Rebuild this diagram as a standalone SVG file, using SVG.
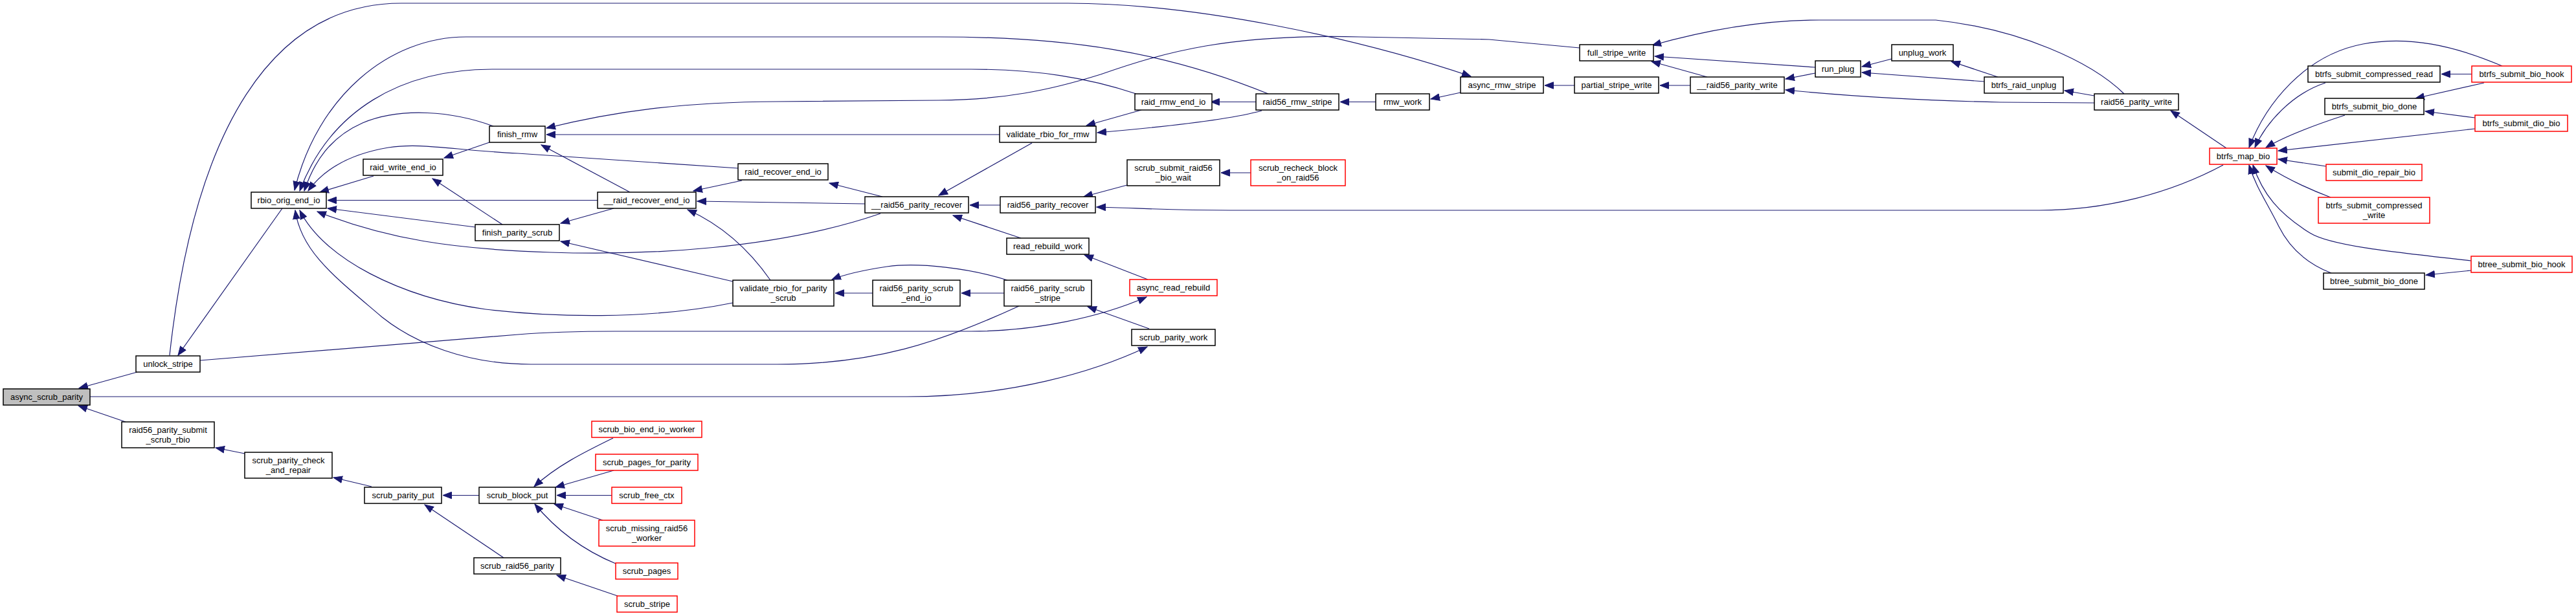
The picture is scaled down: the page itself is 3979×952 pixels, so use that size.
<svg xmlns="http://www.w3.org/2000/svg" width="3979" height="952" viewBox="0 0 3979 952">
<style>
.n rect{fill:#fff;stroke:#000;stroke-width:1.5}
.r rect{stroke:#f00}
.g rect{fill:#bfbfbf}
text{font-family:"Liberation Sans",Arial,sans-serif;font-size:13px;text-anchor:middle;fill:#000}
#edges path{fill:none;stroke:#191970;stroke-width:1.2;marker-end:url(#a)}
</style>
<defs>
<marker id="a" markerWidth="15" markerHeight="12" refX="14" refY="6" orient="auto" markerUnits="userSpaceOnUse">
<path d="M0.5,0.8 L14,6 L0.5,11.2 z" fill="#191970" stroke="#191970" stroke-width="1"/>
</marker>
</defs>
<rect width="3979" height="952" fill="#fff"/>
<g id="edges">
<path d="M212,575 L122,600"/>
<path d="M194,652 L121,627"/>
<path d="M139,613 L1400,613 C1560,613 1690,575 1772,536"/>
<path d="M436,322 L275,549"/>
<path d="M262,549 C300,200 420,5 620,5 L1650,5 C1850,5 2100,60 2272,118"/>
<path d="M1959,145 C1800,80 1650,57 1450,57 L720,57 C600,57 490,150 455,294"/>
<path d="M1755,145 C1680,120 1600,107 1500,107 L760,107 C620,107 510,170 463,295"/>
<path d="M762,195 C700,172 620,165 560,190 C510,212 485,250 470,295"/>
<path d="M1140,260 L800,237 C700,232 650,220 600,228 C540,238 500,262 476,295"/>
<path d="M577,272 L494,297"/>
<path d="M923,309.5 L506,309.5"/>
<path d="M734,351 L506,322"/>
<path d="M1360,330 C1200,385 1000,395 850,390 C700,385 600,370 490,327"/>
<path d="M1132,468 C1000,495 850,490 750,478 C620,460 500,400 463,325"/>
<path d="M1574,473 C1450,530 1350,563 1200,563 L820,563 C720,563 640,530 590,490 C520,430 465,390 456,325"/>
<path d="M756,220 L686,244"/>
<path d="M776,347 L668,276"/>
<path d="M2440,74 L2300,61 L2100,57 C1900,52 1800,80 1700,115 C1620,140 1550,154 1450,155 L1200,157 C1050,158 950,172 844,198"/>
<path d="M1544,208 L844,208"/>
<path d="M973,297 L836,224"/>
<path d="M948,322 L866,345"/>
<path d="M1132,435 L866,373"/>
<path d="M1146,279 L1071,295"/>
<path d="M1336,315 L1077,311"/>
<path d="M1190,433 C1160,390 1120,350 1062,324"/>
<path d="M1363,304 L1281,283"/>
<path d="M1594,221 L1450,302"/>
<path d="M1545,317 L1498,317"/>
<path d="M1577,368 L1472,333"/>
<path d="M1348,453 L1290,453"/>
<path d="M1556,433 C1500,415 1420,405 1370,412 C1330,418 1305,424 1285,432"/>
<path d="M1551,453 L1485,453"/>
<path d="M1763,170 L1678,194"/>
<path d="M1949,171 C1900,185 1800,196 1695,205"/>
<path d="M1940,157.5 L1870,157.5"/>
<path d="M2125,157.5 L2070,157.5"/>
<path d="M2256,143 L2210,153"/>
<path d="M2432,132 L2386,132"/>
<path d="M2611,132 L2564,132"/>
<path d="M2637,119 L2551,95"/>
<path d="M2804,104 L2556,87"/>
<path d="M3281,145 C3230,95 3120,45 2990,31 L2810,31 C2720,31 2630,48 2552,70"/>
<path d="M2804,113 L2758,122"/>
<path d="M3235,159 L3090,158 C2950,155 2850,148 2758,139"/>
<path d="M2922,91 L2876,103"/>
<path d="M3065,126 L2876,112"/>
<path d="M3086,119 L3014,95"/>
<path d="M3235,148 L3189,140"/>
<path d="M3439,229 L3353,171"/>
<path d="M3434,255 C3350,300 3250,325 3150,325 L1900,325 C1800,325 1750,321 1694,320"/>
<path d="M3592,128 C3540,145 3500,190 3483,228"/>
<path d="M3865,102 C3790,70 3720,55 3650,68 C3560,85 3500,160 3474,228"/>
<path d="M3622,178 C3570,195 3530,210 3500,228"/>
<path d="M3823,199 L3519,233"/>
<path d="M3593,257 L3519,246"/>
<path d="M3600,305 C3560,290 3530,275 3500,256"/>
<path d="M3817,403 C3700,390 3600,380 3568,360 C3520,330 3495,300 3480,255"/>
<path d="M3601,422 C3570,410 3540,390 3520,350 C3500,310 3485,290 3474,255"/>
<path d="M3818,114.5 L3771,114.5"/>
<path d="M3837,128 L3731,152"/>
<path d="M3823,182 L3746,172"/>
<path d="M3817,418 L3747,425"/>
<path d="M1741,286 L1674,304"/>
<path d="M1932,267 L1886,267"/>
<path d="M1773,432 L1675,394"/>
<path d="M309,557 L800,517 C850,513 900,512 950,512 L1500,512 C1600,512 1700,490 1771,459"/>
<path d="M1775,508 L1680,474"/>
<path d="M378,701 L333,692"/>
<path d="M574,752 L515,738"/>
<path d="M740,765.5 L684,765.5"/>
<path d="M778,862 L656,780"/>
<path d="M947,677 C900,700 860,720 825,752"/>
<path d="M948,727 L858,753"/>
<path d="M945,765.5 L860,765.5"/>
<path d="M931,804 L856,779"/>
<path d="M951,871 C900,850 860,820 826,779"/>
<path d="M954,921 L860,889"/>
</g>
<g id="n1" class="n g"><rect x="5" y="601" width="134" height="25"/><text x="72" y="618">async_scrub_parity</text></g>
<g id="n2" class="n"><rect x="210" y="550" width="99" height="25"/><text x="259.5" y="567">unlock_stripe</text></g>
<g id="n3" class="n"><rect x="188" y="652" width="143" height="40"/><text x="259.5" y="668.5">raid56_parity_submit</text><text x="259.5" y="683.5">_scrub_rbio</text></g>
<g id="n4" class="n"><rect x="388" y="297" width="116" height="25"/><text x="446" y="314">rbio_orig_end_io</text></g>
<g id="n5" class="n"><rect x="378" y="699" width="135" height="40"/><text x="445.5" y="715.5">scrub_parity_check</text><text x="445.5" y="730.5">_and_repair</text></g>
<g id="n6" class="n"><rect x="561" y="246" width="123" height="25"/><text x="622.5" y="263">raid_write_end_io</text></g>
<g id="n7" class="n"><rect x="563" y="753" width="119" height="25"/><text x="622.5" y="770">scrub_parity_put</text></g>
<g id="n8" class="n"><rect x="756" y="195" width="86" height="25"/><text x="799" y="212">finish_rmw</text></g>
<g id="n9" class="n"><rect x="734" y="347" width="130" height="25"/><text x="799" y="364">finish_parity_scrub</text></g>
<g id="n10" class="n"><rect x="740" y="753" width="118" height="25"/><text x="799" y="770">scrub_block_put</text></g>
<g id="n11" class="n"><rect x="732" y="862" width="134" height="25"/><text x="799" y="879">scrub_raid56_parity</text></g>
<g id="n12" class="n"><rect x="923" y="297" width="152" height="25"/><text x="999" y="314">__raid_recover_end_io</text></g>
<g id="n13" class="n r"><rect x="914" y="651" width="170" height="25"/><text x="999" y="668">scrub_bio_end_io_worker</text></g>
<g id="n14" class="n r"><rect x="920" y="702" width="158" height="25"/><text x="999" y="719">scrub_pages_for_parity</text></g>
<g id="n15" class="n r"><rect x="945" y="753" width="108" height="25"/><text x="999" y="770">scrub_free_ctx</text></g>
<g id="n16" class="n r"><rect x="925" y="804" width="148" height="40"/><text x="999" y="820.5">scrub_missing_raid56</text><text x="999" y="835.5">_worker</text></g>
<g id="n17" class="n r"><rect x="951" y="870" width="96" height="25"/><text x="999" y="887">scrub_pages</text></g>
<g id="n18" class="n r"><rect x="953" y="921" width="93" height="25"/><text x="999.5" y="938">scrub_stripe</text></g>
<g id="n19" class="n"><rect x="1140" y="253" width="139" height="25"/><text x="1209.5" y="270">raid_recover_end_io</text></g>
<g id="n20" class="n"><rect x="1132" y="433" width="156" height="40"/><text x="1210" y="449.5">validate_rbio_for_parity</text><text x="1210" y="464.5">_scrub</text></g>
<g id="n21" class="n"><rect x="1336" y="304" width="160" height="25"/><text x="1416" y="321">__raid56_parity_recover</text></g>
<g id="n22" class="n"><rect x="1348" y="433" width="135" height="40"/><text x="1415.5" y="449.5">raid56_parity_scrub</text><text x="1415.5" y="464.5">_end_io</text></g>
<g id="n23" class="n"><rect x="1544" y="195" width="149" height="25"/><text x="1618.5" y="212">validate_rbio_for_rmw</text></g>
<g id="n24" class="n"><rect x="1545" y="304" width="147" height="25"/><text x="1618.5" y="321">raid56_parity_recover</text></g>
<g id="n25" class="n"><rect x="1555" y="368" width="127" height="25"/><text x="1618.5" y="385">read_rebuild_work</text></g>
<g id="n26" class="n"><rect x="1551" y="433" width="135" height="40"/><text x="1618.5" y="449.5">raid56_parity_scrub</text><text x="1618.5" y="464.5">_stripe</text></g>
<g id="n27" class="n"><rect x="1753" y="145" width="119" height="25"/><text x="1812.5" y="162">raid_rmw_end_io</text></g>
<g id="n28" class="n"><rect x="1741" y="247" width="143" height="40"/><text x="1812.5" y="263.5">scrub_submit_raid56</text><text x="1812.5" y="278.5">_bio_wait</text></g>
<g id="n29" class="n r"><rect x="1745" y="432" width="135" height="25"/><text x="1812.5" y="449">async_read_rebuild</text></g>
<g id="n30" class="n"><rect x="1748" y="509" width="129" height="25"/><text x="1812.5" y="526">scrub_parity_work</text></g>
<g id="n31" class="n"><rect x="1940" y="145" width="128" height="25"/><text x="2004" y="162">raid56_rmw_stripe</text></g>
<g id="n32" class="n r"><rect x="1932" y="247" width="146" height="40"/><text x="2005" y="263.5">scrub_recheck_block</text><text x="2005" y="278.5">_on_raid56</text></g>
<g id="n33" class="n"><rect x="2125" y="145" width="83" height="25"/><text x="2166.5" y="162">rmw_work</text></g>
<g id="n34" class="n"><rect x="2256" y="119" width="128" height="25"/><text x="2320" y="136">async_rmw_stripe</text></g>
<g id="n35" class="n"><rect x="2440" y="69" width="114" height="25"/><text x="2497" y="86">full_stripe_write</text></g>
<g id="n36" class="n"><rect x="2432" y="119" width="130" height="25"/><text x="2497" y="136">partial_stripe_write</text></g>
<g id="n37" class="n"><rect x="2611" y="119" width="145" height="25"/><text x="2683.5" y="136">__raid56_parity_write</text></g>
<g id="n38" class="n"><rect x="2804" y="94" width="70" height="25"/><text x="2839" y="111">run_plug</text></g>
<g id="n39" class="n"><rect x="2922" y="69" width="95" height="25"/><text x="2969.5" y="86">unplug_work</text></g>
<g id="n40" class="n"><rect x="3065" y="119" width="122" height="25"/><text x="3126" y="136">btrfs_raid_unplug</text></g>
<g id="n41" class="n"><rect x="3235" y="145" width="130" height="25"/><text x="3300" y="162">raid56_parity_write</text></g>
<g id="n42" class="n r"><rect x="3413" y="229" width="104" height="25"/><text x="3465" y="246">btrfs_map_bio</text></g>
<g id="n43" class="n"><rect x="3565" y="102" width="204" height="25"/><text x="3667" y="119">btrfs_submit_compressed_read</text></g>
<g id="n44" class="n"><rect x="3591" y="152" width="153" height="25"/><text x="3667.5" y="169">btrfs_submit_bio_done</text></g>
<g id="n45" class="n r"><rect x="3593" y="254" width="148" height="25"/><text x="3667" y="271">submit_dio_repair_bio</text></g>
<g id="n46" class="n r"><rect x="3581" y="305" width="172" height="40"/><text x="3667" y="321.5">btrfs_submit_compressed</text><text x="3667" y="336.5">_write</text></g>
<g id="n47" class="n"><rect x="3589" y="422" width="156" height="25"/><text x="3667" y="439">btree_submit_bio_done</text></g>
<g id="n48" class="n r"><rect x="3818" y="102" width="154" height="25"/><text x="3895" y="119">btrfs_submit_bio_hook</text></g>
<g id="n49" class="n r"><rect x="3823" y="178" width="143" height="25"/><text x="3894.5" y="195">btrfs_submit_dio_bio</text></g>
<g id="n50" class="n r"><rect x="3817" y="396" width="156" height="25"/><text x="3895" y="413">btree_submit_bio_hook</text></g>
</svg>
